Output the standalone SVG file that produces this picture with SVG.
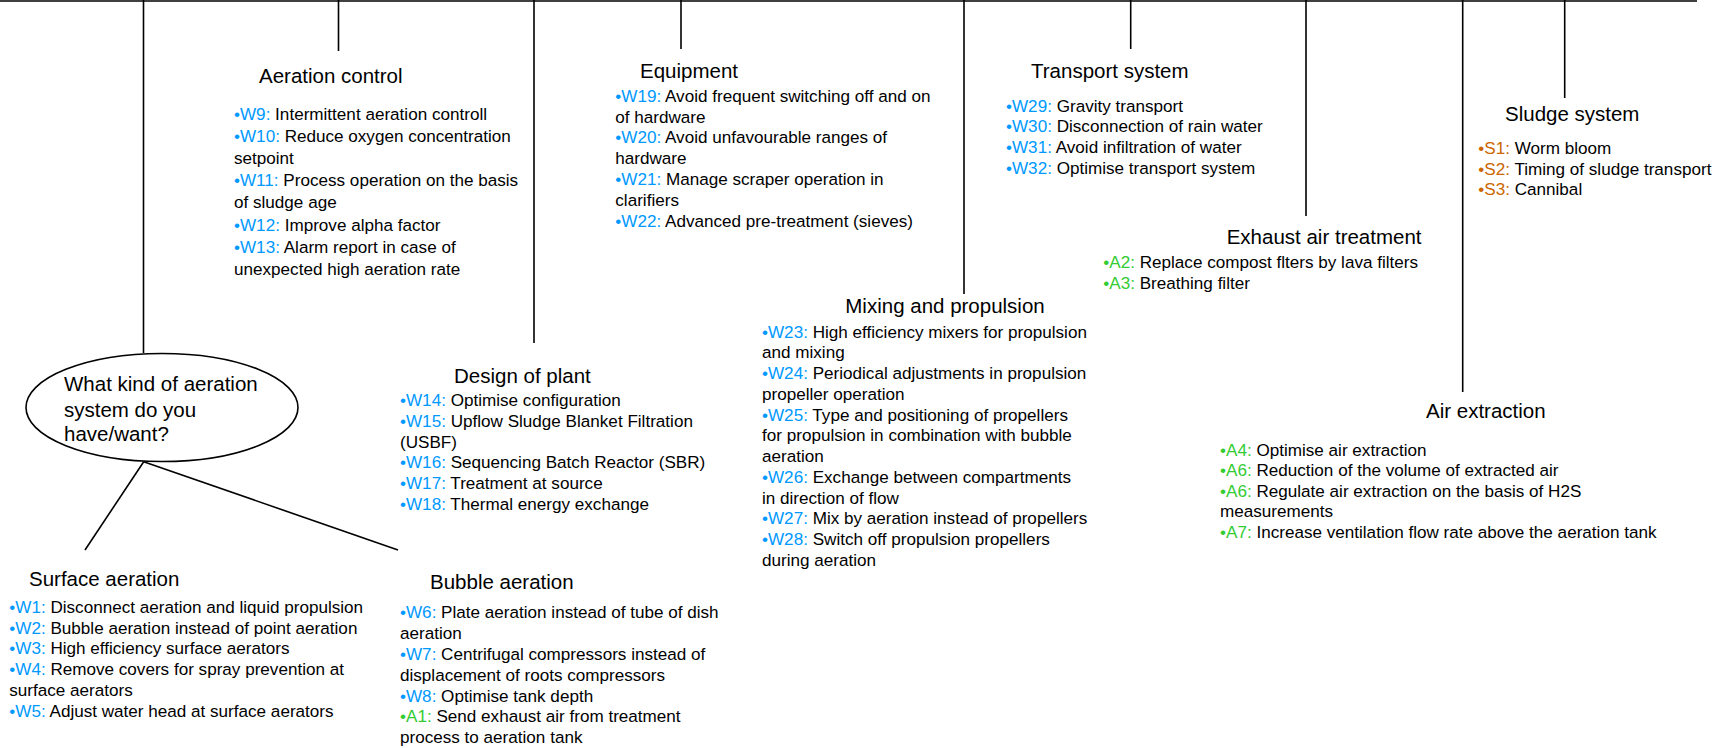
<svg xmlns="http://www.w3.org/2000/svg" width="1720" height="748" viewBox="0 0 1720 748">
<style>
text{font-family:"Liberation Sans",Arial,Helvetica,sans-serif;fill:#000}
.t{font-size:20.5px}
.i{font-size:17.1px}
.w{fill:#0099FF}
.a{fill:#33CC33}
.s{fill:#CC6600}
.ln{stroke:#000;stroke-width:1.6;fill:none}
</style>
<rect width="1720" height="748" fill="#fff"/>
<g id="connectors" class="ln">
<line x1="0" y1="1" x2="1697" y2="1"/>
<line x1="143.5" y1="0" x2="143.5" y2="353"/>
<line x1="338.5" y1="0" x2="338.5" y2="51"/>
<line x1="534" y1="0" x2="534" y2="343"/>
<line x1="681" y1="0" x2="681" y2="49"/>
<line x1="964" y1="0" x2="964" y2="294"/>
<line x1="1130.7" y1="0" x2="1130.7" y2="49"/>
<line x1="1306" y1="0" x2="1306" y2="216"/>
<line x1="1462.7" y1="0" x2="1462.7" y2="392"/>
<line x1="1564.7" y1="0" x2="1564.7" y2="98"/>
<line x1="143.7" y1="461.7" x2="85" y2="550"/>
<line x1="143.7" y1="461.7" x2="398" y2="550"/>
</g>
<g id="question">
<ellipse cx="162" cy="407.5" rx="136" ry="54" class="ln"/>
<text class="t" x="64" y="391">What kind of aeration</text>
<text class="t" x="64" y="416.5">system do you</text>
<text class="t" x="64" y="441">have/want?</text>
</g>
<g id="aeration-control">
<text class="t" x="259" y="83">Aeration control</text>
<text class="i" x="234" y="119.6"><tspan class="w">•W9:</tspan> Intermittent aeration controll</text>
<text class="i" x="234" y="141.8"><tspan class="w">•W10:</tspan> Reduce oxygen concentration</text>
<text class="i" x="234" y="164">setpoint</text>
<text class="i" x="234" y="186.2"><tspan class="w">•W11:</tspan> Process operation on the basis</text>
<text class="i" x="234" y="208.4">of sludge age</text>
<text class="i" x="234" y="230.6"><tspan class="w">•W12:</tspan> Improve alpha factor</text>
<text class="i" x="234" y="252.8"><tspan class="w">•W13:</tspan> Alarm report in case of</text>
<text class="i" x="234" y="275">unexpected high aeration rate</text>
</g>
<g id="surface-aeration">
<text class="t" x="29" y="586">Surface aeration</text>
<text class="i" x="9.3" y="612.7"><tspan class="w">•W1:</tspan> Disconnect aeration and liquid propulsion</text>
<text class="i" x="9.3" y="633.5"><tspan class="w">•W2:</tspan> Bubble aeration instead of point aeration</text>
<text class="i" x="9.3" y="654.3"><tspan class="w">•W3:</tspan> High efficiency surface aerators</text>
<text class="i" x="9.3" y="675.1"><tspan class="w">•W4:</tspan> Remove covers for spray prevention at</text>
<text class="i" x="9.3" y="695.9">surface aerators</text>
<text class="i" x="9.3" y="716.7"><tspan class="w">•W5:</tspan> Adjust water head at surface aerators</text>
</g>
<g id="design-of-plant">
<text class="t" x="454" y="382.7">Design of plant</text>
<text class="i" x="400" y="406"><tspan class="w">•W14:</tspan> Optimise configuration</text>
<text class="i" x="400" y="426.8"><tspan class="w">•W15:</tspan> Upflow Sludge Blanket Filtration</text>
<text class="i" x="400" y="447.6">(USBF)</text>
<text class="i" x="400" y="468.4"><tspan class="w">•W16:</tspan> Sequencing Batch Reactor (SBR)</text>
<text class="i" x="400" y="489.2"><tspan class="w">•W17:</tspan> Treatment at source</text>
<text class="i" x="400" y="510"><tspan class="w">•W18:</tspan> Thermal energy exchange</text>
</g>
<g id="bubble-aeration">
<text class="t" x="430" y="589.3">Bubble aeration</text>
<text class="i" x="400" y="618.3"><tspan class="w">•W6:</tspan> Plate aeration instead of tube of dish</text>
<text class="i" x="400" y="639.1">aeration</text>
<text class="i" x="400" y="659.9"><tspan class="w">•W7:</tspan> Centrifugal compressors instead of</text>
<text class="i" x="400" y="680.7">displacement of roots compressors</text>
<text class="i" x="400" y="701.5"><tspan class="w">•W8:</tspan> Optimise tank depth</text>
<text class="i" x="400" y="722.3"><tspan class="a">•A1:</tspan> Send exhaust air from treatment</text>
<text class="i" x="400" y="743.1">process to aeration tank</text>
</g>
<g id="equipment">
<text class="t" x="640" y="77.7">Equipment</text>
<text class="i" x="615.3" y="101.7"><tspan class="w">•W19:</tspan> Avoid frequent switching off and on</text>
<text class="i" x="615.3" y="122.5">of hardware</text>
<text class="i" x="615.3" y="143.3"><tspan class="w">•W20:</tspan> Avoid unfavourable ranges of</text>
<text class="i" x="615.3" y="164.1">hardware</text>
<text class="i" x="615.3" y="184.9"><tspan class="w">•W21:</tspan> Manage scraper operation in</text>
<text class="i" x="615.3" y="205.7">clarifiers</text>
<text class="i" x="615.3" y="226.5"><tspan class="w">•W22:</tspan> Advanced pre-treatment (sieves)</text>
</g>
<g id="mixing-and-propulsion">
<text class="t" x="845.3" y="313.3">Mixing and propulsion</text>
<text class="i" x="762" y="337.7"><tspan class="w">•W23:</tspan> High efficiency mixers for propulsion</text>
<text class="i" x="762" y="358.4">and mixing</text>
<text class="i" x="762" y="379.2"><tspan class="w">•W24:</tspan> Periodical adjustments in propulsion</text>
<text class="i" x="762" y="399.9">propeller operation</text>
<text class="i" x="762" y="420.6"><tspan class="w">•W25:</tspan> Type and positioning of propellers</text>
<text class="i" x="762" y="441.4">for propulsion in combination with bubble</text>
<text class="i" x="762" y="462.1">aeration</text>
<text class="i" x="762" y="482.8"><tspan class="w">•W26:</tspan> Exchange between compartments</text>
<text class="i" x="762" y="503.5">in direction of flow</text>
<text class="i" x="762" y="524.3"><tspan class="w">•W27:</tspan> Mix by aeration instead of propellers</text>
<text class="i" x="762" y="545"><tspan class="w">•W28:</tspan> Switch off propulsion propellers</text>
<text class="i" x="762" y="565.7">during aeration</text>
</g>
<g id="transport-system">
<text class="t" x="1031" y="77.7">Transport system</text>
<text class="i" x="1006" y="111.7"><tspan class="w">•W29:</tspan> Gravity transport</text>
<text class="i" x="1006" y="132.3"><tspan class="w">•W30:</tspan> Disconnection of rain water</text>
<text class="i" x="1006" y="152.9"><tspan class="w">•W31:</tspan> Avoid infiltration of water</text>
<text class="i" x="1006" y="173.5"><tspan class="w">•W32:</tspan> Optimise transport system</text>
</g>
<g id="exhaust-air-treatment">
<text class="t" x="1226.7" y="244.3">Exhaust air treatment</text>
<text class="i" x="1103.3" y="268.3"><tspan class="a">•A2:</tspan> Replace compost flters by lava filters</text>
<text class="i" x="1103.3" y="289.3"><tspan class="a">•A3:</tspan> Breathing filter</text>
</g>
<g id="sludge-system">
<text class="t" x="1505" y="120.7">Sludge system</text>
<text class="i" x="1478.3" y="154.3"><tspan class="s">•S1:</tspan> Worm bloom</text>
<text class="i" x="1478.3" y="175"><tspan class="s">•S2:</tspan> Timing of sludge transport</text>
<text class="i" x="1478.3" y="195.3"><tspan class="s">•S3:</tspan> Cannibal</text>
</g>
<g id="air-extraction">
<text class="t" x="1426" y="418.3">Air extraction</text>
<text class="i" x="1220" y="455.7"><tspan class="a">•A4:</tspan> Optimise air extraction</text>
<text class="i" x="1220" y="476.2"><tspan class="a">•A6:</tspan> Reduction of the volume of extracted air</text>
<text class="i" x="1220" y="496.7"><tspan class="a">•A6:</tspan> Regulate air extraction on the basis of H2S</text>
<text class="i" x="1220" y="517.2">measurements</text>
<text class="i" x="1220" y="537.7"><tspan class="a">•A7:</tspan> Increase ventilation flow rate above the aeration tank</text>
</g>
</svg>
